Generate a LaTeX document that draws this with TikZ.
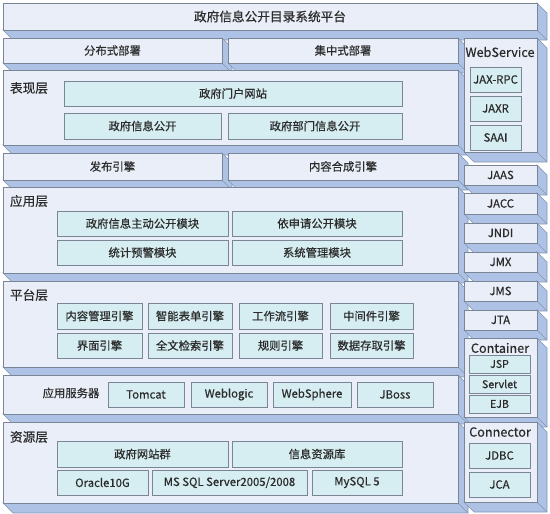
\documentclass[tikz,border=0pt]{standalone}
\usepackage{fontspec}
\setmainfont{Noto Sans CJK SC}[UprightFeatures={FakeBold=0.5}]
\pgfdeclarelayer{back}
\pgfsetlayers{back,main}
\definecolor{panelfill}{HTML}{E9EEF8}
\definecolor{cellfill}{HTML}{D6EDF1}
\definecolor{depthfill}{HTML}{AEC2E5}
\definecolor{depthedge}{HTML}{8495B3}
\definecolor{edgegray}{HTML}{7A8595}
\definecolor{inkgray}{HTML}{2B2B2B}

\begin{document}
\begin{tikzpicture}[x=0.75pt, y=-0.75pt, text=inkgray,
  span/.style args={#1/#2/#3/#4}{at={({(#1+#3)/2},{(#2+#4)/2})},
    minimum width={(#3-#1)*0.75pt}, minimum height={(#4-#2)*0.75pt}},
  panel/.style={draw=edgegray, fill=panelfill, inner sep=0pt, outer sep=0pt,
    line width=.7pt, font=\fontsize{8.5}{10}\selectfont},
  cell/.style={draw=edgegray, fill=cellfill, inner sep=0pt, outer sep=0pt,
    line width=.7pt, font=\fontsize{8.5}{10}\selectfont},
  small/.style={font=\fontsize{8}{9}\selectfont},
  tag/.style={inner sep=0pt, font=\fontsize{9.5}{11}\selectfont},
  depthface/.style={fill=depthfill, draw=depthedge, line width=.5pt}]

  \useasboundingbox (0,0) rectangle (550,514);

  % top and deployment
  \node[panel, span=3/3/537/30, tag] (title) {政府信息公开目录系统平台};
  \node[panel, span=3/38/222/63] (distr) {分布式部署};
  \node[panel, span=228/38/458/63] (central) {集中式部署};

  % presentation
  \node[panel, span=3/70/458/145] (present) {};
  \node[tag] (lpresent) at (29,88) {表现层};
  \node[cell, span=64/81/402/106] (portal) {政府门户网站};
  \node[cell, span=64/113/221/139] (govinfo) {政府信息公开};
  \node[cell, span=228/113/402/139] (deptinfo) {政府部门信息公开};

  \node[panel, span=3/153/222/180] (publish) {发布引擎};
  \node[panel, span=228/153/458/180] (compose) {内容合成引擎};

  % application
  \node[panel, span=3/187/458/273] (appl) {};
  \node[tag] (lappl) at (29,201) {应用层};
  \node[cell, span=57/211/228/236] (active) {政府信息主动公开模块};
  \node[cell, span=232/211/402/236] (request) {依申请公开模块};
  \node[cell, span=57/240/228/265] (alert) {统计预警模块};
  \node[cell, span=232/240/402/265] (manage) {系统管理模块};

  % platform
  \node[panel, span=3/281/458/367] (platform) {};
  \node[tag] (lplatform) at (29,295) {平台层};
  \node[cell, span=57/303/142/329] (cms) {内容管理引擎};
  \node[cell, span=148/303/232/329] (form) {智能表单引擎};
  \node[cell, span=239/303/322/329] (flow) {工作流引擎};
  \node[cell, span=330/303/413/329] (middle) {中间件引擎};
  \node[cell, span=57/333/142/358] (ui) {界面引擎};
  \node[cell, span=148/333/232/358] (search) {全文检索引擎};
  \node[cell, span=239/333/322/358] (rule) {规则引擎};
  \node[cell, span=330/333/413/358] (access) {数据存取引擎};

  % servers
  \node[panel, span=3/375/458/414] (server) {};
  \node[tag, font=\fontsize{8.5}{10}\selectfont] (lserver) at (71,393) {应用服务器};
  \node[cell, span=108/382/184/407] (tomcat) {Tomcat};
  \node[cell, span=191/382/267/407] (weblogic) {Weblogic};
  \node[cell, span=273/382/351/407] (websphere) {WebSphere};
  \node[cell, span=357/382/433/407] (jboss) {JBoss};

  % resources
  \node[panel, span=3/422/458/503] (resource) {};
  \node[tag] (lresource) at (29,437) {资源层};
  \node[cell, span=57/441/228/467] (sites) {政府网站群};
  \node[cell, span=232/441/402/467] (infodb) {信息资源库};
  \node[cell, span=57/470/148/495] (oracle) {Oracle10G};
  \node[cell, span=152/470/307/495] (mssql) {MS SQL Server2005/2008};
  \node[cell, span=312/470/402/495] (mysql) {MySQL 5};

  % right column
  \node[panel, span=464/38/537/152] (websvc) {};
  \node[tag] (lwebsvc) at (500,52) {WebService};
  \node[cell, span=470/67/521/92] (jaxrpc) {JAX-RPC};
  \node[cell, span=470/96/521/121] (jaxr) {JAXR};
  \node[cell, span=470/125/521/150] (saai) {SAAI};
  \node[panel, span=464/165/537/185] (jaas) {JAAS};
  \node[panel, span=464/193/537/214] (jacc) {JACC};
  \node[panel, span=464/223/537/243] (jndi) {JNDI};
  \node[panel, span=464/252/537/272] (jmx) {JMX};
  \node[panel, span=464/281/537/301] (jms) {JMS};
  \node[panel, span=464/310/537/330] (jta) {JTA};
  \node[panel, span=464/338/537/417] (container) {};
  \node[tag] (lcontainer) at (500,348) {Container};
  \node[cell, small, span=469/355/530/373] (jsp) {JSP};
  \node[cell, small, span=469/375/530/393] (servlet) {Servlet};
  \node[cell, small, span=469/395/530/413] (ejb) {EJB};
  \node[panel, span=464/422/537/502] (connector) {};
  \node[tag] (lconnector) at (500,432) {Connector};
  \node[cell, span=469/443/530/468] (jdbc) {JDBC};
  \node[cell, span=469/472/530/497] (jca) {JCA};

  \begin{pgfonlayer}{back}
    \foreach \n in {title,distr,central,present,publish,compose,appl,platform,
        server,resource,websvc,jaas,jacc,jndi,jmx,jms,jta,container,connector}{
      \filldraw[depthface] (\n.north east) -- ++(10,10)
        -- ([shift={(10,10)}]\n.south east) -- ([shift={(10,10)}]\n.south west)
        -- (\n.south west) -- (\n.south east) -- cycle;
      \draw[depthface] (\n.south east) -- ++(10,10);
    }
  \end{pgfonlayer}
\end{tikzpicture}
\end{document}
